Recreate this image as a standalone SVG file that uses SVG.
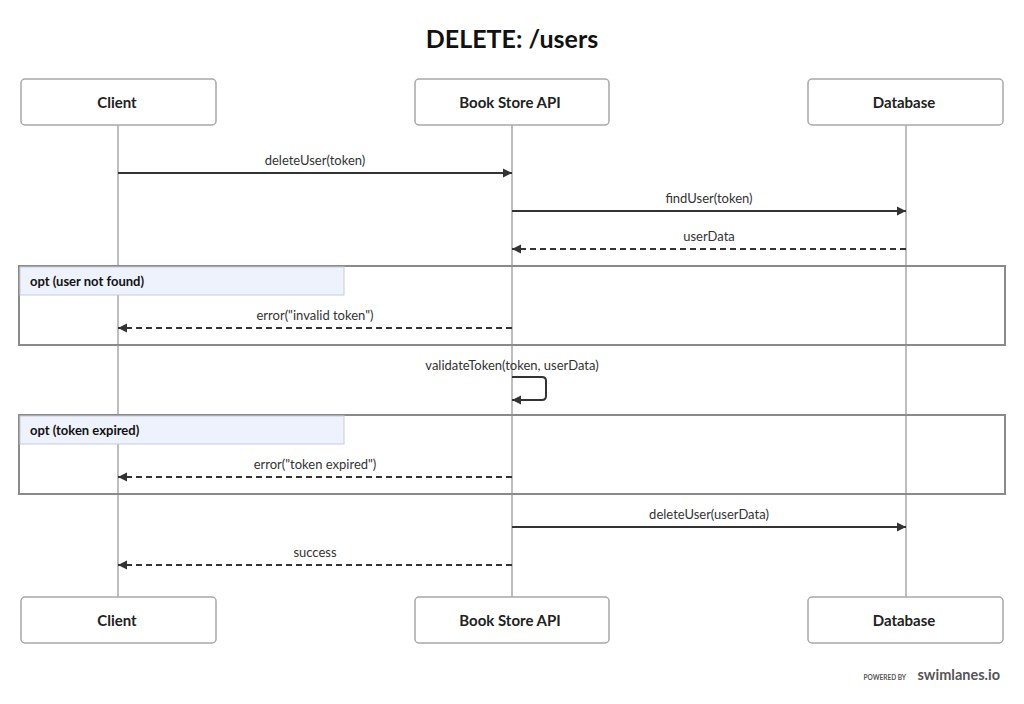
<svg xmlns="http://www.w3.org/2000/svg" width="1024" height="704" viewBox="0 0 1024 704">
<style>
.bg{fill:#fff}
.actor rect{fill:#fff;stroke:#a8a8a8;stroke-width:1.5}
.actor text{font-family:"Source Sans Pro","Lato","Noto Sans",sans-serif;font-size:15px;font-weight:bold;fill:#222;text-anchor:middle}
.life{stroke:#a8a8a8;stroke-width:1.5}
.msg{stroke:#333;stroke-width:2;fill:none}
.dash{stroke-dasharray:6,4}
.lbl{font-family:"Source Sans Pro","Lato","Noto Sans",sans-serif;font-size:13px;fill:#333;text-anchor:middle}
.frame{fill:none;stroke:#8a8a8a;stroke-width:2}
.ftag{fill:#eef2fc;stroke:#c8ccd8;stroke-width:1}
.ftxt{font-family:"Source Sans Pro","Lato","Noto Sans",sans-serif;font-size:13px;font-weight:bold;fill:#111}
</style>
<defs>
<marker id="ah" viewBox="0 0 10 10" refX="10" refY="5" markerWidth="9" markerHeight="11" markerUnits="userSpaceOnUse" orient="auto">
<path d="M0,0 L10,5 L0,10 z" fill="#333"/>
</marker>
</defs>
<rect class="bg" x="0" y="0" width="1024" height="704"/>
<text x="512" y="48" text-anchor="middle" font-family="Source Sans Pro, Lato, Noto Sans, sans-serif" font-size="25" font-weight="bold" fill="#111">DELETE: /users</text>

<g id="lifelines">
<line class="life" x1="118" y1="125" x2="118" y2="597"/>
<line class="life" x1="512" y1="125" x2="512" y2="597"/>
<line class="life" x1="906" y1="125" x2="906" y2="597"/>
</g>

<g id="frame-user-not-found">
<rect class="frame" x="19" y="266" width="986" height="79"/>
<rect class="ftag" x="20" y="267" width="324" height="28"/>
<text class="ftxt" x="30" y="286">opt (user not found)</text>
</g>
<g id="frame-token-expired">
<rect class="frame" x="19" y="415" width="986" height="79"/>
<rect class="ftag" x="20" y="416" width="324" height="28"/>
<text class="ftxt" x="30" y="435">opt (token expired)</text>
</g>

<g id="client-top" class="actor"><rect x="21" y="79" width="195" height="46" rx="4"/><text x="117" y="108">Client</text></g>
<g id="api-top" class="actor"><rect x="415" y="79" width="194" height="46" rx="4"/><text x="510" y="108">Book Store API</text></g>
<g id="db-top" class="actor"><rect x="808" y="79" width="195" height="46" rx="4"/><text x="904" y="108">Database</text></g>
<g id="client-bottom" class="actor"><rect x="21" y="597" width="195" height="46" rx="4"/><text x="117" y="626">Client</text></g>
<g id="api-bottom" class="actor"><rect x="415" y="597" width="194" height="46" rx="4"/><text x="510" y="626">Book Store API</text></g>
<g id="db-bottom" class="actor"><rect x="808" y="597" width="195" height="46" rx="4"/><text x="904" y="626">Database</text></g>

<g id="connectors">
<line class="msg" x1="118" y1="173" x2="512" y2="173" marker-end="url(#ah)"/>
<text class="lbl" x="315" y="165">deleteUser(token)</text>
<line class="msg" x1="512" y1="211" x2="906" y2="211" marker-end="url(#ah)"/>
<text class="lbl" x="709" y="203">findUser(token)</text>
<line class="msg dash" x1="906" y1="249" x2="512" y2="249" marker-end="url(#ah)"/>
<text class="lbl" x="709" y="241">userData</text>
<line class="msg dash" x1="512" y1="328" x2="118" y2="328" marker-end="url(#ah)"/>
<text class="lbl" x="315" y="320">error("invalid token")</text>
<path class="msg" d="M512,377 H542 Q546,377 546,381 V396 Q546,400 542,400 H512" marker-end="url(#ah)"/>
<text class="lbl" x="512" y="370">validateToken(token, userData)</text>
<line class="msg dash" x1="512" y1="477" x2="118" y2="477" marker-end="url(#ah)"/>
<text class="lbl" x="315" y="469">error("token expired")</text>
<line class="msg" x1="512" y1="527" x2="906" y2="527" marker-end="url(#ah)"/>
<text class="lbl" x="709" y="519">deleteUser(userData)</text>
<line class="msg dash" x1="512" y1="565" x2="118" y2="565" marker-end="url(#ah)"/>
<text class="lbl" x="315" y="557">success</text>
</g>

<g id="footer">
<text x="906" y="680" text-anchor="end" font-family="Source Sans Pro, Lato, Noto Sans, sans-serif" font-size="6.5" font-weight="bold" fill="#555">POWERED BY</text>
<text x="1000" y="680" text-anchor="end" font-family="Source Sans Pro, Lato, Noto Sans, sans-serif" font-size="14.5" font-weight="bold" fill="#555">swimlanes.io</text>
</g>
</svg>
